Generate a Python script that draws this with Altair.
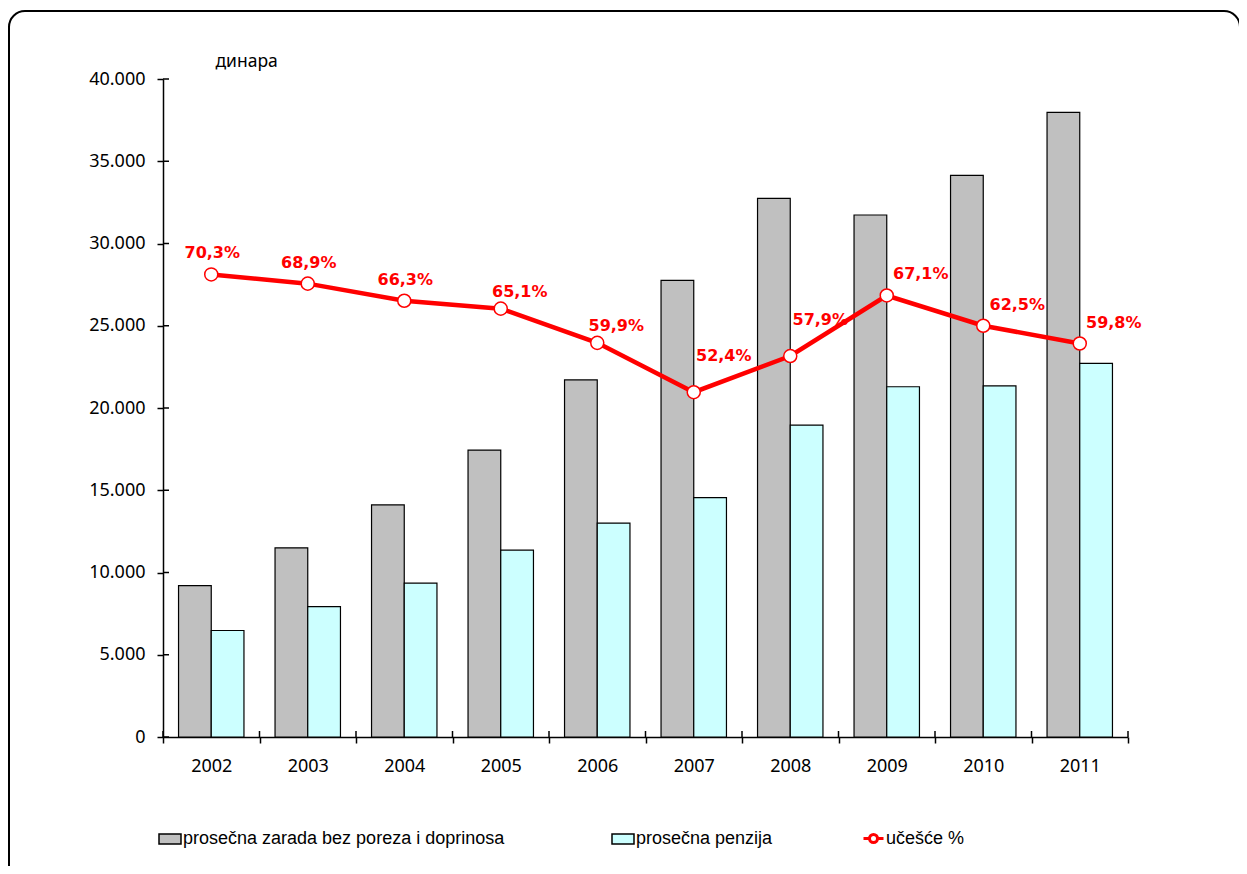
import altair as alt
import pandas as pd

years = ["2002", "2003", "2004", "2005", "2006", "2007", "2008", "2009", "2010", "2011"]
zarada = [9208, 11500, 14108, 17443, 21707, 27759, 32746, 31733, 34142, 37976]
penzija = [6473, 7924, 9354, 11355, 13002, 14546, 18960, 21293, 21339, 22710]
ucesce = [70.3, 68.9, 66.3, 65.1, 59.9, 52.4, 57.9, 67.1, 62.5, 59.8]
y_ticks = [0, 5000, 10000, 15000, 20000, 25000, 30000, 35000, 40000]

s_zar = "prosečna zarada bez poreza i doprinosa"
s_pen = "prosečna penzija"
s_uc = "učešće %"

W, H = 965, 658
FONT = "Noto Sans"
LFONT = "Liberation Sans"
BFONT = "DejaVu Sans"

bars_df = pd.DataFrame({
    "year": years * 2,
    "series": [s_zar] * len(years) + [s_pen] * len(years),
    "value": zarada + penzija,
})
line_df = pd.DataFrame({"year": years, "pct": ucesce, "series": [s_uc] * len(years)})
yt_df = pd.DataFrame({"v": y_ticks})
one_df = pd.DataFrame({"a": [0]})

xscale = alt.Scale(paddingInner=0, paddingOuter=0)
x_enc = alt.X("year:O", scale=xscale, sort=years,
              axis=alt.Axis(title=None, labelAngle=0, tickBand="extent", tickSize=6,
                            labelPadding=14, labelFont=FONT, labelFontSize=18,
                            labelColor="black", domainColor="black", domainWidth=1.5,
                            tickColor="black", tickWidth=1.5))

bar_sym = "M-1,-0.4545 L1,-0.4545 L1,0.4545 L-1,0.4545 Z"
line_sym = ("M-1,0 L-0.4,0 M0.4,0 L1,0 M-0.4,0 A0.4,0.4 0 1,0 0.4,0 "
            "A0.4,0.4 0 1,0 -0.4,0 Z")

bars = alt.Chart(bars_df).mark_bar(stroke="black", strokeWidth=1.2).encode(
    x=x_enc,
    xOffset=alt.XOffset("series:N", sort=[s_zar, s_pen],
                        scale=alt.Scale(paddingOuter=0.475, paddingInner=0)),
    y=alt.Y("value:Q", scale=alt.Scale(domain=[0, 40000], nice=False),
            axis=alt.Axis(values=y_ticks, grid=False, tickSize=6, labelPadding=12,
                          labelExpr="replace(format(datum.value, ','), ',', '.')",
                          labelFont=FONT, labelFontSize=18, labelColor="black",
                          domainColor="black", domainWidth=1.5, tickColor="black",
                          tickWidth=1.5,
                          title="динара", titleAngle=0, titleX=52, titleY=-18,
                          titleAlign="left", titleBaseline="middle", titleFont=FONT,
                          titleFontSize=17.5, titleFontWeight="normal", titleColor="black")),
    fill=alt.Fill("series:N", sort=[s_zar, s_pen],
                  scale=alt.Scale(domain=[s_zar, s_pen], range=["#C0C0C0", "#CCFFFF"]),
                  legend=alt.Legend(title=None, orient="none", legendX=-5, legendY=748,
                                    direction="horizontal", columnPadding=104,
                                    symbolType=bar_sym, symbolSize=484,
                                    symbolStrokeColor="black", symbolStrokeWidth=1.5,
                                    labelFont=LFONT, labelFontSize=18, labelColor="black",
                                    labelOffset=1, padding=0, labelLimit=500)),
)

yin = alt.Chart(yt_df).mark_rule(color="black", strokeWidth=1.5).encode(
    y=alt.Y("v:Q", scale=alt.Scale(domain=[0, 40000], nice=False), axis=None),
    x=alt.value(0), x2=alt.value(6),
)
xin = alt.Chart(line_df).mark_rule(color="black", strokeWidth=1.5).encode(
    x=alt.X("year:O", sort=years, bandPosition=0),
    y=alt.value(H - 6), y2=alt.value(H),
)
xin_end = alt.Chart(one_df).mark_rule(color="black", strokeWidth=1.5).encode(
    x=alt.value(W), y=alt.value(H - 6), y2=alt.value(H),
)

pscale = alt.Scale(domain=[0, 100], nice=False)

line = alt.Chart(line_df).mark_line(strokeWidth=4.5).encode(
    x=alt.X("year:O", sort=years),
    y=alt.Y("pct:Q", scale=pscale, axis=None),
    stroke=alt.Stroke("series:N",
                      scale=alt.Scale(domain=[s_uc], range=["#FF0000"]),
                      legend=alt.Legend(title=None, orient="none", legendX=699, legendY=748,
                                        symbolType=line_sym, symbolSize=400,
                                        symbolStrokeWidth=3, symbolFillColor="white",
                                        labelFont=LFONT, labelFontSize=18,
                                        labelColor="black", labelOffset=1, padding=0)),
)
points = alt.Chart(line_df).mark_point(filled=True, fill="white", stroke="#FF0000",
                                       strokeWidth=1.5, size=170, opacity=1).encode(
    x=alt.X("year:O", sort=years),
    y=alt.Y("pct:Q", scale=pscale, axis=None),
)


def labels(sel, dx, dy):
    return alt.Chart(line_df).transform_filter(
        alt.FieldOneOfPredicate(field="year", oneOf=sel)
    ).transform_calculate(
        lbl="replace(format(datum.pct, '.1f'), '.', ',') + '%'"
    ).mark_text(color="#FF0000", font=BFONT, fontSize=16, fontWeight="bold",
                dx=dx, dy=dy, align="center", baseline="middle").encode(
        x=alt.X("year:O", sort=years),
        y=alt.Y("pct:Q", scale=pscale, axis=None),
        text="lbl:N",
    )


lab1 = labels(["2002", "2003", "2004"], 1, -21)
lab2 = labels(["2005", "2006"], 19, -17)
lab3 = labels(["2007", "2008"], 30, -36)
lab4 = labels(["2009", "2010", "2011"], 34, -21)

frame = alt.Chart(one_df).mark_rect(stroke="black", strokeWidth=2, fillOpacity=0,
                                    cornerRadius=16, clip=False).encode(
    x=alt.value(-154), x2=alt.value(1077), y=alt.value(-68), y2=alt.value(830),
)

chart = alt.layer(
    frame, bars, yin, xin, xin_end, line, points, lab1, lab2, lab3, lab4
).resolve_scale(
    y="independent", fill="independent", stroke="independent"
).properties(
    width=W, height=H,
    autosize=alt.AutoSizeParams(type="none"),
    padding={"left": 155, "top": 71, "right": 111, "bottom": 129},
    background="white",
).configure_view(stroke=None)

chart.save("out.html", embed_options={"renderer": "svg", "actions": False})
